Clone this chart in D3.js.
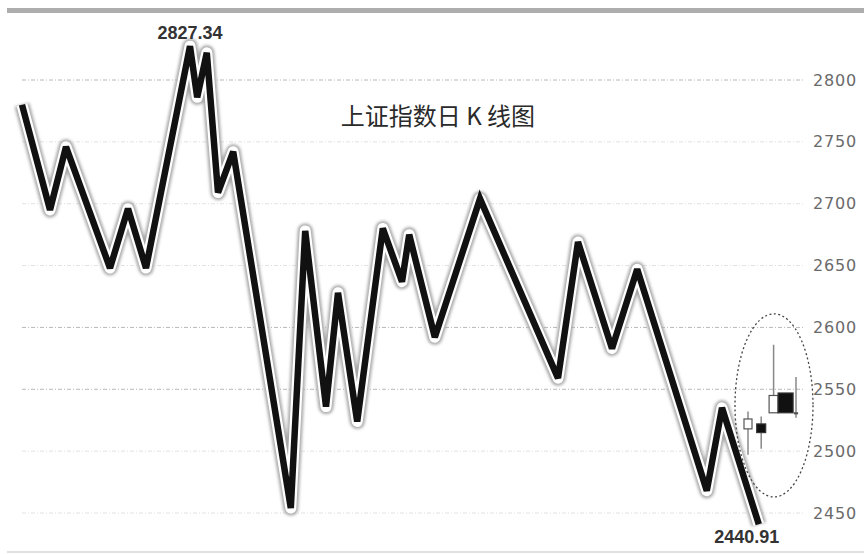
<!DOCTYPE html>
<html>
<head>
<meta charset="utf-8">
<script src="https://cdn.jsdelivr.net/npm/d3@7"></script>
<style>
  body { margin: 0; background: #fff; }
</style>
</head>
<body>
<svg id="chart"></svg>
<script>
// 上证指数日K线图（折线示意 + 局部K线）

// 折线拐点：交易日位置与点位
const turnDays = [0, 3.5, 5.5, 11, 13.25, 15.5, 21, 21.9, 23.1, 24.5, 26.4, 33.6, 35.4, 38, 39.5, 41.9,
  45.1, 47.5, 48.4, 51.6, 57.25, 67, 69.5, 73.75, 76.9, 85.6, 87.5, 92.1];
const turnValues = [2780, 2695, 2746, 2648, 2696, 2648, 2827.34, 2786, 2822, 2709, 2742, 2454, 2678, 2536,
  2628, 2524, 2680, 2637, 2675, 2592, 2704, 2559, 2669, 2583, 2647, 2468, 2535, 2440.91];

// 椭圆内的K线
const candleDays  = [90.75, 92.4, 93.95, 95.45, 96.75];
const candleOpen  = [2518, 2522, 2531, 2547, 2531];
const candleClose = [2526, 2515, 2545, 2531, 2531];
const candleHigh  = [2532, 2528, 2586, 2547, 2560];
const candleLow   = [2497, 2502, 2531, 2531, 2527];

const yTicks = [2800, 2750, 2700, 2650, 2600, 2550, 2500, 2450];
const strongTicks = [2800, 2600, 2550];
const title = "上证指数日 K 线图";
const highLabel = "2827.34";
const lowLabel = "2440.91";

const W = 864, H = 554;
const svg = d3.select("#chart").attr("width", W).attr("height", H);

const x = d3.scaleLinear().domain([0, 100]).range([22, 822]);
const y = d3.scaleLinear().domain([2450, 2800]).range([513, 80]);

// 顶部灰条和底部细线
svg.append("rect").attr("x", 7).attr("y", 8).attr("width", W - 7).attr("height", 5).attr("fill", "#adadad");
svg.append("rect").attr("x", 7).attr("y", 551).attr("width", W - 7).attr("height", 2).attr("fill", "#e0e0e0");

// 网格线
svg.append("g")
  .selectAll("line")
  .data(yTicks)
  .join("line")
    .attr("x1", 22)
    .attr("x2", 805)
    .attr("y1", d => y(d))
    .attr("y2", d => y(d))
    .attr("stroke", d => strongTicks.includes(d) ? "#b8b8b8" : "#e2e2e2")
    .attr("stroke-width", 1)
    .attr("stroke-dasharray", "4,2,1,2");

// 右侧刻度
const axis = svg.append("g")
  .attr("transform", "translate(813,0)")
  .call(d3.axisRight(y).tickValues(yTicks).tickSize(0).tickPadding(0).tickFormat(d3.format("d")));
axis.select(".domain").remove();
axis.selectAll("text")
  .attr("font-family", "DejaVu Sans")
  .attr("font-size", "16px")
  .attr("letter-spacing", "0.8px")
  .attr("fill", "#6a6a6a");

// 标题
svg.append("text")
  .attr("x", 438)
  .attr("y", 125)
  .attr("text-anchor", "middle")
  .attr("font-family", "Noto Sans CJK SC")
  .attr("font-size", "24px")
  .attr("fill", "#2a2a2a")
  .text(title);

// 折线：灰色光晕 + 白边 + 黑芯
const pts = turnDays.map((d, i) => [d, turnValues[i]]);
const line = d3.line().x(d => x(d[0])).y(d => y(d[1]));

const defs = svg.append("defs");
defs.append("filter").attr("id", "glow")
  .append("feGaussianBlur").attr("stdDeviation", 1.8);

svg.append("path")
  .attr("d", line(pts))
  .attr("fill", "none")
  .attr("stroke", "#a8a8a8")
  .attr("stroke-width", 15)
  .attr("stroke-linejoin", "round")
  .attr("filter", "url(#glow)");
svg.append("path")
  .attr("d", line(pts))
  .attr("fill", "none")
  .attr("stroke", "#fff")
  .attr("stroke-width", 11)
  .attr("stroke-linejoin", "round");
svg.append("path")
  .attr("d", line(pts))
  .attr("fill", "none")
  .attr("stroke", "#111")
  .attr("stroke-width", 6.5)
  .attr("stroke-linejoin", "miter")
  .attr("stroke-miterlimit", 3);

// 椭圆标注
const ex = x(94), ey = y(2537);
svg.append("ellipse")
  .attr("cx", ex)
  .attr("cy", ey)
  .attr("rx", 39)
  .attr("ry", y(2463) - ey)
  .attr("fill", "none")
  .attr("stroke", "#444")
  .attr("stroke-width", 1.3)
  .attr("stroke-dasharray", "2,2.5");

// K线
const candleW = [8, 9, 9, 15, 3];
const cg = svg.append("g");
candleDays.forEach((d, i) => {
  const cx = x(d);
  const up = candleClose[i] >= candleOpen[i];
  cg.append("line")
    .attr("x1", cx).attr("x2", cx)
    .attr("y1", y(candleHigh[i])).attr("y2", y(candleLow[i]))
    .attr("stroke", "#888")
    .attr("stroke-width", 1.5);
  const top = y(Math.max(candleOpen[i], candleClose[i]));
  const bot = y(Math.min(candleOpen[i], candleClose[i]));
  cg.append("rect")
    .attr("x", cx - candleW[i] / 2)
    .attr("y", top)
    .attr("width", candleW[i])
    .attr("height", Math.max(bot - top, 1))
    .attr("fill", up ? "#fff" : "#111")
    .attr("stroke", up ? "#555" : "#333")
    .attr("stroke-width", 1.2);
});

// 最高、最低点标签
svg.append("text")
  .attr("x", x(turnDays[6]))
  .attr("y", y(2827.34) - 7)
  .attr("text-anchor", "middle")
  .attr("font-family", "Liberation Sans")
  .attr("font-weight", "bold")
  .attr("font-size", "18px")
  .attr("fill", "#333")
  .text(highLabel);

svg.append("text")
  .attr("x", x(turnDays[turnDays.length - 1]) - 12)
  .attr("y", y(2440.91) + 19)
  .attr("text-anchor", "middle")
  .attr("font-family", "Liberation Sans")
  .attr("font-weight", "bold")
  .attr("font-size", "18px")
  .attr("fill", "#333")
  .text(lowLabel);
</script>
</body>
</html>
